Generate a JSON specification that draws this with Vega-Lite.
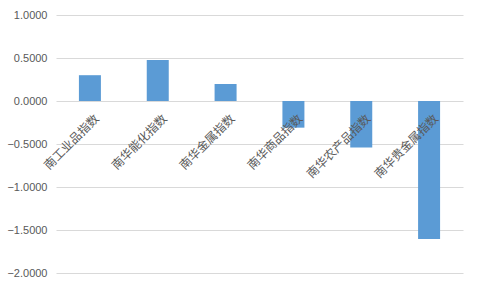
{
  "$schema": "https://vega.github.io/schema/vega-lite/v6.json",
  "width": 407,
  "height": 258,
  "autosize": {"type": "none"},
  "padding": {"left": 56, "top": 15, "right": 17, "bottom": 15},
  "background": "white",
  "config": {"view": {"stroke": null}},
  "data": {
    "values": [
      {"name": "南工业品指数", "value": 0.30},
      {"name": "南华能化指数", "value": 0.477},
      {"name": "南华金属指数", "value": 0.198},
      {"name": "南华商品指数", "value": -0.31},
      {"name": "南华农产品指数", "value": -0.54},
      {"name": "南华贵金属指数", "value": -1.605}
    ]
  },
  "encoding": {
    "x": {
      "field": "name",
      "type": "nominal",
      "sort": null,
      "scale": {"paddingInner": 0, "paddingOuter": 0},
      "axis": null
    }
  },
  "layer": [
    {
      "mark": {"type": "bar", "color": "#5b9bd5", "size": 22},
      "encoding": {
        "y": {
          "field": "value",
          "type": "quantitative",
          "scale": {"domain": [-2, 1], "nice": false, "zero": false},
          "axis": {
            "values": [-2, -1.5, -1, -0.5, 0, 0.5, 1],
            "format": ".4f",
            "title": null,
            "domain": false,
            "ticks": false,
            "labelPadding": 9,
            "labelFontSize": 11,
            "labelFont": "Liberation Sans",
            "labelColor": "#595959",
            "gridColor": "#d9d9d9",
            "gridWidth": 1
          }
        }
      }
    },
    {
      "mark": {
        "type": "text",
        "angle": -45,
        "align": "right",
        "baseline": "middle",
        "dx": -6,
        "dy": 16,
        "fontSize": 12,
        "font": "Noto Sans CJK SC",
        "color": "#595959"
      },
      "encoding": {
        "y": {"datum": 0},
        "text": {"field": "name"}
      }
    }
  ]
}
